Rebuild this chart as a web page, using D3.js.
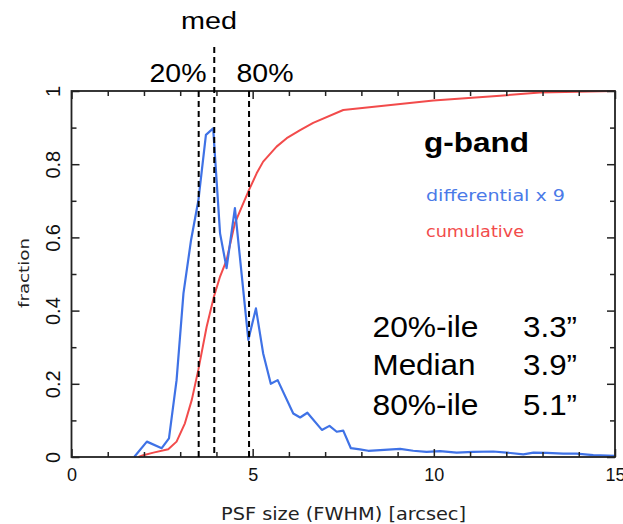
<!DOCTYPE html>
<html>
<head>
<meta charset="utf-8">
<script src="https://cdn.jsdelivr.net/npm/d3@7"></script>
<style>
  html, body { margin: 0; padding: 0; background: #fff; }
  svg { display: block; }
</style>
</head>
<body>
<svg id="chart" width="623" height="524"></svg>
<script>
// PSF size distribution, g-band
const diffX = [1.73, 2.08, 2.49, 2.69, 2.90, 3.09, 3.30, 3.50, 3.71, 3.91, 4.10, 4.28, 4.51, 4.88, 5.09, 5.29, 5.50, 5.69, 6.12, 6.31, 6.51, 6.91, 7.12, 7.32, 7.50, 7.71, 7.96, 8.19, 8.52, 9.07, 9.43, 9.80, 10.17, 10.63, 11.09, 11.64, 12.01, 12.47, 12.75, 13.12, 13.57, 13.94, 14.40, 15.0];
const diffY = [0, 0.042, 0.024, 0.051, 0.21, 0.447, 0.593, 0.70, 0.88, 0.898, 0.611, 0.516, 0.68, 0.32, 0.406, 0.283, 0.20, 0.21, 0.119, 0.108, 0.121, 0.074, 0.085, 0.069, 0.072, 0.024, 0.021, 0.017, 0.019, 0.022, 0.017, 0.014, 0.016, 0.012, 0.014, 0.015, 0.012, 0.007, 0.012, 0.011, 0.009, 0.009, 0.005, 0.003];

const cumX = [1.85, 1.98, 2.26, 2.67, 2.90, 3.13, 3.32, 3.50, 3.73, 3.93, 4.10, 4.28, 4.51, 4.74, 4.90, 5.11, 5.29, 5.66, 5.94, 6.31, 6.67, 7.50, 9.99, 11.83, 12.93, 15.0];
const cumY = [0, 0.005, 0.012, 0.021, 0.042, 0.092, 0.156, 0.238, 0.356, 0.438, 0.493, 0.538, 0.639, 0.693, 0.73, 0.775, 0.807, 0.848, 0.871, 0.893, 0.913, 0.948, 0.974, 0.987, 0.996, 1.0];

// percentile markers (dashed lines)
const markerNames = ["20%", "med", "80%"];
const markerX = [3.51, 3.94, 4.90];

const xTicks = [0, 5, 10, 15];
const xTickLabels = ["0", "5", "10", "15"];
const yTicks = [0, 0.2, 0.4, 0.6, 0.8, 1];
const yTickLabels = ["0", "0.2", "0.4", "0.6", "0.8", "1"];

const statNames = ["20%-ile", "Median", "80%-ile"];
const statValues = ["3.3\u201D", "3.9\u201D", "5.1\u201D"];

const svg = d3.select("#chart");
const plotLeft = 71.5, plotRight = 615, plotTop = 91, plotBottom = 457;

const x = d3.scaleLinear().domain([0, 15]).range([plotLeft, plotRight]);
const y = d3.scaleLinear().domain([0, 1]).range([plotBottom, plotTop]);

const axisFont = "'Liberation Sans', Arial, Helvetica, sans-serif";
const roundFont = "'DejaVu Sans', 'Noto Sans', sans-serif";
const axisColor = "#222";

// curves (drawn first so the frame sits on top)
const line = d3.line().x(d => x(d[0])).y(d => y(d[1]));

svg.append("path")
  .datum(cumX.map((v, i) => [v, cumY[i]]))
  .attr("d", line)
  .attr("fill", "none")
  .attr("stroke", "#f24b4b")
  .attr("stroke-width", 2)
  .attr("stroke-linejoin", "round");

svg.append("path")
  .datum(diffX.map((v, i) => [v, diffY[i]]))
  .attr("d", line)
  .attr("fill", "none")
  .attr("stroke", "#3f72e6")
  .attr("stroke-width", 2.2)
  .attr("stroke-linejoin", "round");

// tick marks, all pointing into the plot
function ticks(axisFn, scale, values, size, transform) {
  const g = svg.append("g")
    .attr("transform", transform)
    .call(axisFn(scale).tickValues(values).tickSize(-size).tickFormat(""));
  g.select(".domain").remove();
  g.selectAll(".tick line").attr("stroke", axisColor).attr("stroke-width", 1.5);
  return g;
}
const xMinor = d3.range(0, 16).filter(v => v % 5 !== 0);
const yMinor = [0.1, 0.3, 0.5, 0.7, 0.9];

ticks(d3.axisBottom, x, xTicks, 8, `translate(0,${plotBottom})`);
ticks(d3.axisBottom, x, xMinor, 5, `translate(0,${plotBottom})`);
ticks(d3.axisTop, x, xTicks, 8, `translate(0,${plotTop})`);
ticks(d3.axisTop, x, xMinor, 5, `translate(0,${plotTop})`);
ticks(d3.axisLeft, y, yTicks, 8, `translate(${plotLeft},0)`);
ticks(d3.axisLeft, y, yMinor, 5, `translate(${plotLeft},0)`);
ticks(d3.axisRight, y, yTicks, 8, `translate(${plotRight},0)`);
ticks(d3.axisRight, y, yMinor, 5, `translate(${plotRight},0)`);

// frame
svg.append("rect")
  .attr("x", plotLeft).attr("y", plotTop)
  .attr("width", plotRight - plotLeft).attr("height", plotBottom - plotTop)
  .attr("fill", "none")
  .attr("stroke", axisColor)
  .attr("stroke-width", 1.8);

// x tick labels
const xl = svg.append("g")
  .attr("transform", `translate(0,${plotBottom})`)
  .call(d3.axisBottom(x).tickValues(xTicks).tickSize(0).tickPadding(11)
    .tickFormat((d, i) => xTickLabels[i]));
xl.select(".domain").remove();
xl.selectAll("text")
  .attr("font-family", axisFont)
  .attr("font-size", 18)
  .attr("fill", "#111");

// y tick labels, rotated
const yl = svg.append("g")
  .attr("transform", `translate(${plotLeft},0)`)
  .call(d3.axisLeft(y).tickValues(yTicks).tickSize(0)
    .tickFormat((d, i) => yTickLabels[i]));
yl.select(".domain").remove();
yl.selectAll("text")
  .attr("transform", "rotate(-90)")
  .attr("x", 0)
  .attr("y", -12)
  .attr("dy", 0)
  .attr("text-anchor", "middle")
  .attr("font-family", axisFont)
  .attr("font-size", 20)
  .attr("fill", "#111");

// axis titles
svg.append("text")
  .attr("x", 343.5).attr("y", 520)
  .attr("text-anchor", "middle")
  .attr("font-family", roundFont)
  .attr("font-size", 17)
  .attr("textLength", 245)
  .attr("lengthAdjust", "spacingAndGlyphs")
  .attr("fill", "#222")
  .text("PSF size (FWHM) [arcsec]");

svg.append("text")
  .attr("transform", "translate(29,273) rotate(-90)")
  .attr("text-anchor", "middle")
  .attr("font-family", roundFont)
  .attr("font-size", 14)
  .attr("textLength", 70)
  .attr("lengthAdjust", "spacingAndGlyphs")
  .attr("fill", "#222")
  .text("fraction");

// percentile markers
markerX.forEach((v, i) => {
  svg.append("line")
    .attr("x1", x(v)).attr("x2", x(v))
    .attr("y1", markerNames[i] === "med" ? 47 : plotTop)
    .attr("y2", plotBottom)
    .attr("stroke", "#000")
    .attr("stroke-width", 2)
    .attr("stroke-dasharray", "6,4");
});

const markerLabelPos = {
  "20%": { x: 149.5, y: 82, len: 57, size: 25 },
  "med": { x: 181, y: 29, len: 56, size: 23 },
  "80%": { x: 236.5, y: 82, len: 57, size: 25 }
};
markerNames.forEach(n => {
  const p = markerLabelPos[n];
  svg.append("text")
    .attr("x", p.x).attr("y", p.y)
    .attr("font-family", axisFont)
    .attr("font-size", p.size)
    .attr("textLength", p.len)
    .attr("lengthAdjust", "spacingAndGlyphs")
    .attr("fill", "#000")
    .text(n);
});

// legend block
svg.append("text")
  .attr("x", 424).attr("y", 152)
  .attr("font-family", axisFont)
  .attr("font-weight", "bold")
  .attr("font-size", 27)
  .attr("textLength", 105)
  .attr("lengthAdjust", "spacingAndGlyphs")
  .attr("fill", "#000")
  .text("g-band");

svg.append("text")
  .attr("x", 426).attr("y", 200.5)
  .attr("font-family", roundFont)
  .attr("font-size", 16)
  .attr("textLength", 139)
  .attr("lengthAdjust", "spacingAndGlyphs")
  .attr("fill", "#4a7ae8")
  .text("differential x 9");

svg.append("text")
  .attr("x", 426).attr("y", 236.5)
  .attr("font-family", roundFont)
  .attr("font-size", 16)
  .attr("textLength", 98)
  .attr("lengthAdjust", "spacingAndGlyphs")
  .attr("fill", "#f24b4b")
  .text("cumulative");

// percentile summary
const statBaselines = [336.5, 375, 414.5];
const statNameLen = [106, 103, 106];
statNames.forEach((n, i) => {
  svg.append("text")
    .attr("x", 372.5).attr("y", statBaselines[i])
    .attr("font-family", axisFont)
    .attr("font-size", 29)
    .attr("textLength", statNameLen[i])
    .attr("lengthAdjust", "spacingAndGlyphs")
    .attr("fill", "#000")
    .text(n);
  svg.append("text")
    .attr("x", 577).attr("y", statBaselines[i])
    .attr("text-anchor", "end")
    .attr("font-family", axisFont)
    .attr("font-size", 29)
    .attr("textLength", 54)
    .attr("lengthAdjust", "spacingAndGlyphs")
    .attr("fill", "#000")
    .text(statValues[i]);
});
</script>
</body>
</html>
